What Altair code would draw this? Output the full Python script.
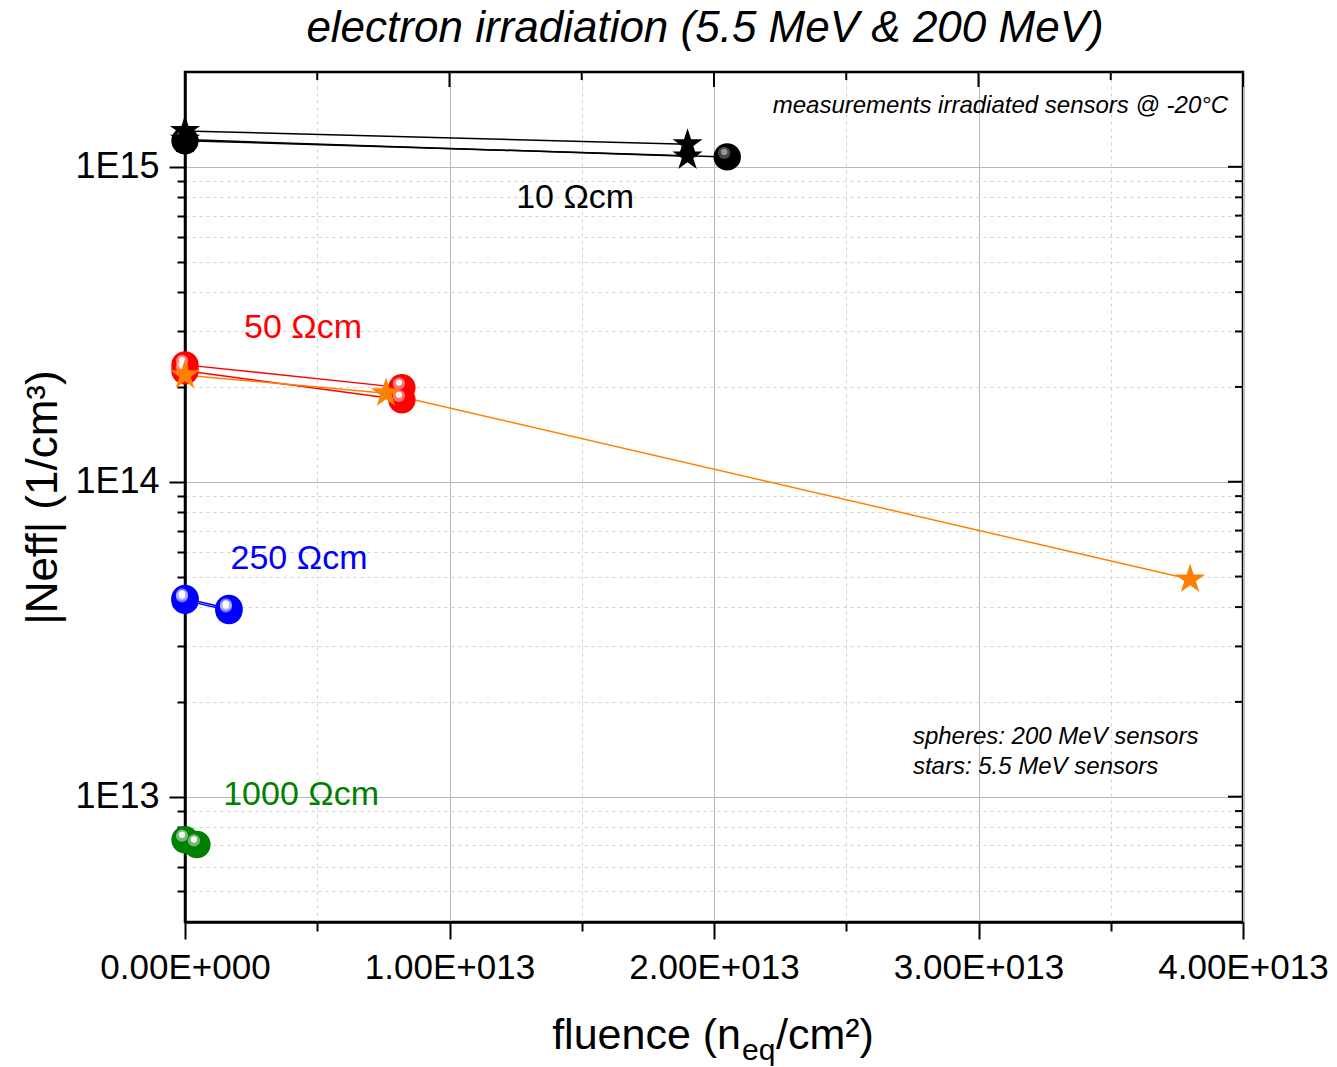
import altair as alt
import pandas as pd

FONT = "Liberation Sans"

# ---------------- data ----------------
# black (10 Ohm cm)
black_star_a_x = [0.0, 1.90e13]
black_star_a_y = [1.30e15, 1.18e15]
black_star_b_x = [0.0, 1.90e13]
black_star_b_y = [1.22e15, 1.08e15]
black_sph_x = [0.0, 2.05e13]
black_sph_y = [1.21e15, 1.075e15]
# red (50 Ohm cm), 200 MeV
red_sph_a_x = [0.0, 8.2e12]
red_sph_a_y = [2.35e14, 1.99e14]
red_sph_b_x = [0.0, 8.2e12]
red_sph_b_y = [2.25e14, 1.82e14]
# orange (50 Ohm cm), 5.5 MeV
orange_star_x = [0.0, 7.6e12, 3.80e13]
orange_star_y = [2.18e14, 1.91e14, 4.90e13]
# blue (250 Ohm cm)
blue_sph_a_x = [0.0, 1.66e12]
blue_sph_a_y = [4.20e13, 3.90e13]
blue_sph_b_x = [0.0, 1.66e12]
blue_sph_b_y = [4.26e13, 3.96e13]
# green (1000 Ohm cm)
green_sph_x = [0.0, 4.5e11]
green_sph_y = [7.30e12, 7.05e12]

series = [
    ("black star a", "star", "#000000", black_star_a_x, black_star_a_y),
    ("black star b", "star", "#000000", black_star_b_x, black_star_b_y),
    ("black sphere", "sphere", "#000000", black_sph_x, black_sph_y),
    ("red sphere a", "sphere", "#ff0000", red_sph_a_x, red_sph_a_y),
    ("red sphere b", "sphere", "#ff0000", red_sph_b_x, red_sph_b_y),
    ("orange star", "star", "#ff8000", orange_star_x, orange_star_y),
    ("blue sphere a", "sphere", "#0000ff", blue_sph_a_x, blue_sph_a_y),
    ("blue sphere b", "sphere", "#0000ff", blue_sph_b_x, blue_sph_b_y),
    ("green sphere", "sphere", "#008000", green_sph_x, green_sph_y),
]
highlight = {"#000000": "#a0a0a0", "#ff0000": "#ffffff", "#ff8000": "#ffffff",
             "#0000ff": "#ffffff", "#008000": "#ffffff"}

# axis ticks
x_major = [0.0, 1e13, 2e13, 3e13, 4e13]
x_minor = [5e12, 1.5e13, 2.5e13, 3.5e13]
x_labels = ["0.00E+000", "1.00E+013", "2.00E+013", "3.00E+013", "4.00E+013"]
y_major = [1e13, 1e14, 1e15]
y_minor = [5e12, 6e12, 7e12, 8e12, 9e12,
           2e13, 3e13, 4e13, 5e13, 6e13, 7e13, 8e13, 9e13,
           2e14, 3e14, 4e14, 5e14, 6e14, 7e14, 8e14, 9e14]
y_labels = ["1E13", "1E14", "1E15"]

# annotations
lbl_text = ["10 Ωcm", "50 Ωcm", "250 Ωcm", "1000 Ωcm"]
lbl_x = [1.475e13, 4.46e12, 4.31e12, 4.39e12]
lbl_y = [7.98e14, 3.08e14, 5.7e13, 1.01e13]
lbl_color = ["#000000", "#ff0000", "#0000ff", "#008000"]

note_right_text = ["measurements irradiated sensors @ -20°C"]
note_right_x = [3.944e13]
note_right_y = [1.56e15]
note_left_text = ["spheres: 200 MeV sensors", "stars: 5.5 MeV sensors"]
note_left_x = [2.752e13, 2.752e13]
note_left_y = [1.55e13, 1.245e13]

TITLE = "electron irradiation (5.5 MeV & 200 MeV)"
Y_TITLE = "|Neff| (1/cm³)"

# five-pointed star marker (unit symbol space)
STAR_PATH = ("M0,-1L0.2245,-0.309L0.9511,-0.309L0.3633,0.118L0.5878,0.809"
             "L0,0.382L-0.5878,0.809L-0.3633,0.118L-0.9511,-0.309"
             "L-0.2245,-0.309Z")

# ---------------- build tables ----------------
rows = []
for name, kind, color, xs, ys in series:
    for i, (xv, yv) in enumerate(zip(xs, ys)):
        rows.append({"series": name, "kind": kind, "color": color,
                     "hi": highlight[color],
                     "fluence": xv, "neff": yv, "order": i})
df = pd.DataFrame(rows)

W, H = 1058, 850
x_dom = [0.0, 4e13]
y_dom = [4e12, 2e15]


def arr(vals):
    return "[" + ",".join(repr(float(v)) for v in vals) + "]"


def label_expr(vals, labels):
    expr = "''"
    for v, l in reversed(list(zip(vals, labels))):
        expr = f"datum.value == {float(v)!r} ? '{l}' : ({expr})"
    return expr


x_all = sorted(x_major + x_minor)
y_all = sorted(y_major + y_minor)
x_is_major = f"indexof({arr(x_major)}, datum.value) >= 0"
y_is_major = f"indexof({arr(y_major)}, datum.value) >= 0"


def cond(test, a, b):
    return {"condition": {"test": test, "value": a}, "value": b}


x_scale = alt.Scale(domain=x_dom, nice=False, zero=False)
y_scale = alt.Scale(type="log", domain=y_dom, nice=False)

common_axis = dict(
    labelFont=FONT, labelColor="black", tickColor="black", tickWidth=2,
    domain=True, domainColor="black", domainWidth=2.5,
    labelOverlap=False, labelFlush=False,
)

main_x_axis = alt.Axis(
    values=x_all, labelExpr=label_expr(x_major, x_labels),
    grid=True, gridWidth=1,
    gridColor=cond(x_is_major, "#b8b8b8", "#d0d0d0"),
    gridDash=cond(x_is_major, [], [3, 4]),
    tickSize=cond(x_is_major, 17, 9),
    labelFontSize=35, labelPadding=11, title=None, **common_axis)
main_y_axis = alt.Axis(
    values=y_all, labelExpr=label_expr(y_major, y_labels),
    grid=True, gridWidth=1,
    gridColor=cond(y_is_major, "#b8b8b8", "#d0d0d0"),
    gridDash=cond(y_is_major, [], [3, 4]),
    tickSize=cond(y_is_major, 16, 8),
    labelFontSize=36, labelPadding=10,
    title=Y_TITLE, titleFont=FONT, titleFontSize=44, titleFontWeight="normal",
    titleColor="black", titlePadding=9, **common_axis)

# every layer uses the identical axis definition so the shared axes merge
X = alt.X("fluence:Q", scale=x_scale, axis=main_x_axis)
Y = alt.Y("neff:Q", scale=y_scale, axis=main_y_axis)

base_axes = alt.Chart(df).mark_point(opacity=0).encode(x=X, y=Y)

# inward ticks on the top and right frame, drawn from the tick lists
top_major = alt.Chart(pd.DataFrame({"fluence": x_major})).mark_rule(
    color="black", strokeWidth=2).encode(x=X, y=alt.value(0), y2=alt.value(15))
top_minor = alt.Chart(pd.DataFrame({"fluence": x_minor})).mark_rule(
    color="black", strokeWidth=2).encode(x=X, y=alt.value(0), y2=alt.value(8))
right_major = alt.Chart(pd.DataFrame({"neff": y_major})).mark_rule(
    color="black", strokeWidth=2).encode(y=Y, x=alt.value(W), x2=alt.value(W - 15))
right_minor = alt.Chart(pd.DataFrame({"neff": y_minor})).mark_rule(
    color="black", strokeWidth=2).encode(y=Y, x=alt.value(W), x2=alt.value(W - 8))

lines = alt.Chart(df).mark_line(strokeWidth=1.5).encode(
    x=X, y=Y, detail="series:N", order="order:Q",
    color=alt.Color("color:N", scale=None),
)

sph_df = df[df["kind"] == "sphere"]
spheres = alt.Chart(sph_df).mark_point(
    shape="circle", filled=True, size=750, opacity=1, strokeWidth=0
).encode(x=X, y=Y, color=alt.Color("color:N", scale=None))
glow = alt.Chart(sph_df).mark_point(
    shape="circle", filled=True, size=150, opacity=0.45, strokeWidth=0,
    xOffset=-3, yOffset=-4
).encode(x=X, y=Y, color=alt.Color("hi:N", scale=None))
shine = alt.Chart(sph_df).mark_point(
    shape="circle", filled=True, size=40, opacity=0.9, strokeWidth=0,
    xOffset=-3, yOffset=-5
).encode(x=X, y=Y, color=alt.Color("hi:N", scale=None))

stars = alt.Chart(df[df["kind"] == "star"]).mark_point(
    shape=STAR_PATH, filled=True, size=1000, opacity=1, strokeWidth=0
).encode(x=X, y=Y, color=alt.Color("color:N", scale=None))

lbl_df = pd.DataFrame({"t": lbl_text, "fluence": lbl_x, "neff": lbl_y,
                       "c": lbl_color})
labels = alt.Chart(lbl_df).mark_text(
    font=FONT, fontSize=34, align="center", baseline="middle"
).encode(x=X, y=Y, text="t:N", color=alt.Color("c:N", scale=None))

nr_df = pd.DataFrame({"t": note_right_text, "fluence": note_right_x,
                      "neff": note_right_y})
notes_r = alt.Chart(nr_df).mark_text(
    font=FONT, fontSize=24, fontStyle="italic", align="right",
    baseline="middle", color="black"
).encode(x=X, y=Y, text="t:N")

nl_df = pd.DataFrame({"t": note_left_text, "fluence": note_left_x,
                      "neff": note_left_y})
notes_l = alt.Chart(nl_df).mark_text(
    font=FONT, fontSize=24, fontStyle="italic", align="left",
    baseline="middle", color="black"
).encode(x=X, y=Y, text="t:N")

# x-axis title with subscript, composed of three text pieces
xt_main = ["fluence (n"]
xt_sub = ["eq"]
xt_end = ["/cm²)"]
xt1 = alt.Chart(pd.DataFrame({"t": xt_main})).mark_text(
    font=FONT, fontSize=43, align="right", baseline="alphabetic", color="black"
).encode(text="t:N", x=alt.value(556), y=alt.value(977))
xt2 = alt.Chart(pd.DataFrame({"t": xt_sub})).mark_text(
    font=FONT, fontSize=30, align="left", baseline="alphabetic", color="black"
).encode(text="t:N", x=alt.value(557), y=alt.value(988))
xt3 = alt.Chart(pd.DataFrame({"t": xt_end})).mark_text(
    font=FONT, fontSize=43, align="left", baseline="alphabetic", color="black"
).encode(text="t:N", x=alt.value(591), y=alt.value(977))

chart = alt.layer(
    base_axes, top_major, top_minor, right_major, right_minor,
    lines, spheres, glow, shine, stars,
    labels, notes_r, notes_l, xt1, xt2, xt3,
).properties(
    width=W, height=H,
    autosize=alt.AutoSizeParams(type="none"),
    padding={"left": 185, "top": 72, "right": 94, "bottom": 145},
    title=alt.TitleParams(TITLE, font=FONT, fontSize=44, fontStyle="italic",
                          fontWeight="normal", color="black", anchor="middle",
                          dx=-9, offset=20),
    background="white",
).configure_view(stroke="black", strokeWidth=2.5)

chart.save("out.html", embed_options={"renderer": "svg", "actions": False})
